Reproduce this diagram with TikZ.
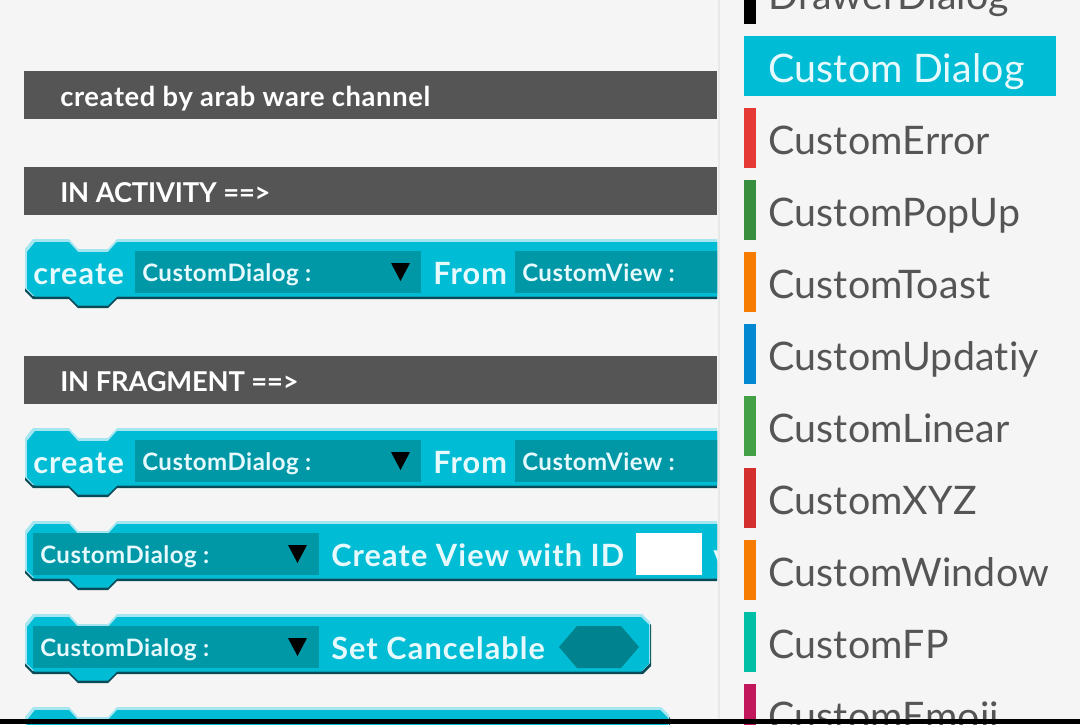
\documentclass[tikz,border=0pt]{standalone}
\usepackage{fontspec}
\setmainfont{Lato}[Ligatures=NoCommon,LetterSpace=0.5]
\newfontfamily\headfont{Lato Bold}[LetterSpace=2.3,Ligatures=NoCommon]
\newfontfamily\capsfont{Lato Bold}[LetterSpace=-0.6,Ligatures=NoCommon]
\newfontfamily\blabfont{Lato Bold}[LetterSpace=3.6,Ligatures=NoCommon]
\newfontfamily\flabfont{Lato Bold}[LetterSpace=2.1,Ligatures=NoCommon]
\definecolor{bgc}{HTML}{F5F5F5}
\definecolor{headc}{HTML}{555555}
\definecolor{bodyc}{HTML}{00BCD4}
\definecolor{lightc}{HTML}{A5E6F1}
\definecolor{fieldc}{HTML}{0097A7}
\definecolor{hexc}{HTML}{00838F}
\definecolor{edgec}{HTML}{0A4A57}
\definecolor{itemc}{HTML}{555555}
\definecolor{blocktxt}{HTML}{E6FAFD}
\definecolor{cA}{HTML}{E53935}
\definecolor{cB}{HTML}{388E3C}
\definecolor{cC}{HTML}{F57C00}
\definecolor{cD}{HTML}{0288D1}
\definecolor{cE}{HTML}{43A047}
\definecolor{cF}{HTML}{D32F2F}
\definecolor{cG}{HTML}{00BFA5}
\definecolor{cH}{HTML}{C2185B}
\newcommand{\blockshape}[4]{(#1,#2+10) -- (#1+8,#2) -- (69,#2) -- (78,#2+10) -- (108,#2+10) -- (117,#2) -- (#3-8,#2) -- (#3,#2+8) -- (#3,#4-8) -- (#3-8,#4) -- (117,#4) -- (108,#4+9) -- (78,#4+9) -- (69,#4) -- (#1+8,#4) -- (#1,#4-8) -- cycle}
\newcommand{\blockbody}[1]{%
  \fill[edgec] \blockshape{25}{2}{#1}{59};
  \fill[lightc] \blockshape{25}{-1}{#1-1}{56};
  \fill[bodyc] \blockshape{27}{2}{#1-2}{56.5};
}
\tikzset{
  x=0.75pt,y=-0.75pt,
  head/.style={anchor=base west,inner sep=0pt,text=white,font=\headfont\fontsize{20.5}{24}\selectfont},
  capshead/.style={anchor=base west,inner sep=0pt,text=white,font=\capsfont\fontsize{20.5}{24}\selectfont},
  blab/.style={anchor=base west,inner sep=0pt,text=blocktxt,font=\blabfont\fontsize{23}{26}\selectfont},
  flab/.style={anchor=base west,inner sep=0pt,text=blocktxt,font=\flabfont\fontsize{18}{21}\selectfont},
  item/.style={anchor=base west,inner sep=0pt,text=itemc,font=\fontsize{29.5}{34}\selectfont},
}
\begin{document}
\begin{tikzpicture}
\useasboundingbox (0,0) rectangle (1080,724);
\fill[bgc] (0,0) rectangle (1080,724);
\fill[black!9] (717.5,0) rectangle (720,724);
\fill[headc] (24,71) rectangle (717,119);
\fill[headc] (24,167) rectangle (717,215);
\fill[headc] (24,356) rectangle (717,404);
\node[head] (h1) at (60,106) {created by arab ware channel};
\node[capshead] (h2) at (60,202) {IN ACTIVITY ==>};
\node[capshead] (h3) at (60,391) {IN FRAGMENT ==>};
\begin{scope}
\clip (0,0) rectangle (717,724);
\begin{scope}[shift={(0,240)}]
\blockbody{800}
\fill[fieldc] (135,11) rectangle (421,53);
\fill[fieldc] (515,11) rectangle (760,53);
\fill[black] (391,23) -- (410,23) -- (400.5,41) -- cycle;
\node[blab] (c1) at (33,44) {create};
\node[flab] (d1) at (142,41) {CustomDialog :};
\node[blab] (f1) at (433,44) {From};
\node[flab] (v1) at (522,41) {CustomView :};
\end{scope}
\begin{scope}[shift={(0,429)}]
\blockbody{800}
\fill[fieldc] (135,11) rectangle (421,53);
\fill[fieldc] (515,11) rectangle (760,53);
\fill[black] (391,23) -- (410,23) -- (400.5,41) -- cycle;
\node[blab] (c2) at (33,44) {create};
\node[flab] (d2) at (142,41) {CustomDialog :};
\node[blab] (f2) at (433,44) {From};
\node[flab] (v2) at (522,41) {CustomView :};
\end{scope}
\begin{scope}[shift={(0,522)}]
\blockbody{800}
\fill[fieldc] (33,11) rectangle (319,53);
\fill[black] (288,23) -- (307,23) -- (297.5,41) -- cycle;
\fill[white] (636,11) rectangle (702,53);
\node[flab] (d3) at (40,41) {CustomDialog :};
\node[blab] (t3) at (331,44) {Create View with ID};
\node[blab] (v3) at (713,44) {v};
\end{scope}
\begin{scope}[shift={(0,615)}]
\blockbody{651}
\fill[fieldc] (33,11) rectangle (319,53);
\fill[black] (288,23) -- (307,23) -- (297.5,41) -- cycle;
\fill[hexc] (559,32) -- (577,11) -- (621,11) -- (639,32) -- (621,53) -- (577,53) -- cycle;
\node[flab] (d4) at (40,41) {CustomDialog :};
\node[blab] (t4) at (331,44) {Set Cancelable};
\end{scope}
\begin{scope}[shift={(0,708)}]
\blockbody{670}
\end{scope}
\end{scope}
\begin{scope}
\clip (720,0) rectangle (1080,724);
\fill[black] (744,-36) rectangle (756,24);
\node[item] (i0) at (768,10) {DrawerDialog};
\fill[bodyc] (744,36) rectangle (1056,96);
\node[item,text=blocktxt] (i1) at (768,82) {Custom Dialog};
\fill[cA] (744,108) rectangle (756,168);
\node[item] (i2) at (768,154) {CustomError};
\fill[cB] (744,180) rectangle (756,240);
\node[item] (i3) at (768,226) {CustomPopUp};
\fill[cC] (744,252) rectangle (756,312);
\node[item] (i4) at (768,298) {CustomToast};
\fill[cD] (744,324) rectangle (756,384);
\node[item] (i5) at (768,370) {CustomUpdatiy};
\fill[cE] (744,396) rectangle (756,456);
\node[item] (i6) at (768,442) {CustomLinear};
\fill[cF] (744,468) rectangle (756,528);
\node[item] (i7) at (768,514) {CustomXYZ};
\fill[cC] (744,540) rectangle (756,600);
\node[item] (i8) at (768,586) {CustomWindow};
\fill[cG] (744,612) rectangle (756,672);
\node[item] (i9) at (768,658) {CustomFP};
\fill[cH] (744,684) rectangle (756,744);
\node[item] (i10) at (768,730) {CustomEmoji};
\end{scope}
\fill[black] (0,719) rectangle (1080,724);
\end{tikzpicture}
\end{document}
